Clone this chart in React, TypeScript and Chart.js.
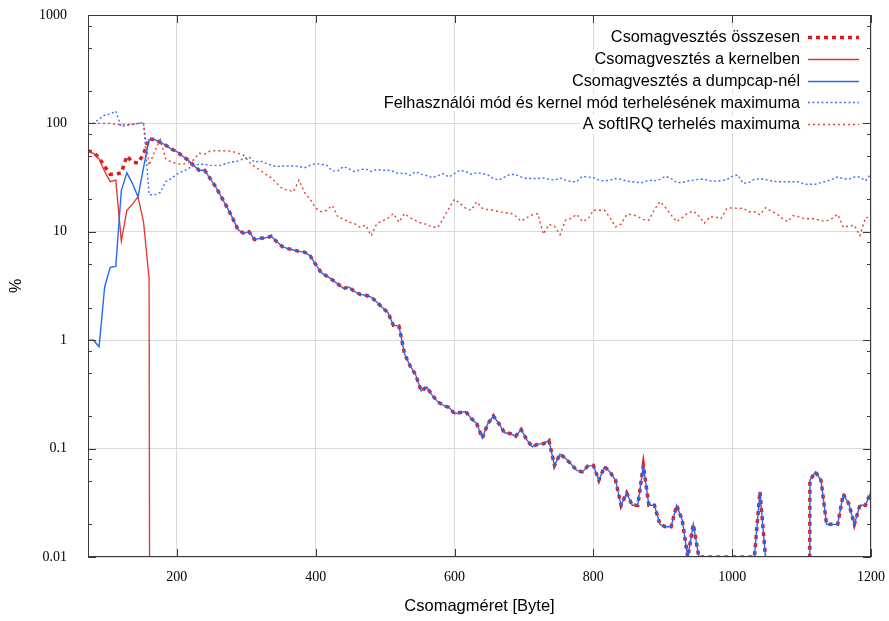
import React, { useEffect, useRef } from "react";
import { Chart, registerables } from "chart.js";

Chart.register(...registerables);

// ---------- data ----------
const packetSizes = [
  72, 80, 88, 96, 104, 112, 120, 128, 136, 144,
  152, 160, 168, 176, 184, 192, 200, 208, 216, 224,
  232, 240, 248, 256, 264, 272, 280, 288, 296, 304,
  312, 320, 328, 336, 344, 352, 360, 368, 376, 384,
  392, 400, 408, 416, 424, 432, 440, 448, 456, 464,
  472, 480, 488, 496, 504, 512, 520, 528, 536, 544,
  552, 560, 568, 576, 584, 592, 600, 608, 616, 624,
  632, 640, 648, 656, 664, 672, 680, 688, 696, 704,
  712, 720, 728, 736, 744, 752, 760, 768, 776, 784,
  792, 800, 808, 816, 824, 832, 840, 848, 856, 864,
  872, 880, 888, 896, 904, 912, 920, 928, 936, 944,
  952, 960, 968, 976, 984, 992, 1000, 1008, 1016, 1024,
  1032, 1040, 1048, 1056, 1064, 1072, 1080, 1088, 1096, 1104,
  1112, 1120, 1128, 1136, 1144, 1152, 1160, 1168, 1176, 1184,
  1192, 1200,
];

const lossTotal = [
  56, 54, 48, 40, 34, 34, 35, 50, 44, 43,
  52, 72, 71, 67, 63, 58, 55, 50, 46, 41,
  37, 37, 31, 26, 21, 17, 13.5, 10.5, 9.7, 10,
  8.5, 8.7, 8.8, 9.1, 8.1, 7.3, 7.0, 6.8, 6.6, 6.5,
  6.0, 5.0, 4.2, 3.9, 3.6, 3.3, 3.0, 3.1, 2.8, 2.65,
  2.6, 2.5, 2.25, 2.0, 1.8, 1.37, 1.35, 0.75, 0.58, 0.48,
  0.34, 0.37, 0.31, 0.27, 0.25, 0.24, 0.21, 0.215, 0.22, 0.19,
  0.17, 0.125, 0.17, 0.2, 0.17, 0.14, 0.138, 0.13, 0.15, 0.121,
  0.104, 0.11, 0.111, 0.119, 0.07, 0.089, 0.081, 0.072, 0.063, 0.061,
  0.069, 0.07, 0.051, 0.068, 0.061, 0.051, 0.03, 0.039, 0.03, 0.03,
  0.07, 0.03, 0.03, 0.02, 0.019, 0.019, 0.03, 0.022, 0.01, 0.02,
  0.01, 0.01, 0.01, 0.01, 0.01, 0.01, 0.01, 0.01, 0.01, 0.01,
  0.01, 0.04, 0.01, 0, 0, 0, 0, 0, 0, 0,
  0.051, 0.061, 0.051, 0.02, 0.02, 0.02, 0.038, 0.031, 0.02, 0.03,
  0.03, 0.04,
];

// kernel loss: read up to the point where it falls to zero (stays zero afterwards)
const lossKernel = [55, 53, 47, 36, 29, 30, 8.2, 15.8, 18, 21, 12.3, 3.7, 0];

const lossDumpcap = [
  1.0, 1.0, 0.87, 3.1, 4.7, 4.8, 24, 35, 28, 21,
  39, 71, 71, 67, 63, 58, 55, 50, 46, 41,
  37, 37, 31, 26, 21, 17, 13.5, 10.5, 9.7, 10,
  8.5, 8.7, 8.8, 9.1, 8.1, 7.3, 7.0, 6.8, 6.6, 6.5,
  6.0, 5.0, 4.2, 3.9, 3.6, 3.3, 3.0, 3.1, 2.8, 2.65,
  2.6, 2.5, 2.25, 2.0, 1.8, 1.37, 1.35, 0.75, 0.58, 0.48,
  0.34, 0.37, 0.31, 0.27, 0.25, 0.24, 0.21, 0.215, 0.22, 0.19,
  0.17, 0.125, 0.17, 0.2, 0.17, 0.14, 0.138, 0.13, 0.15, 0.121,
  0.104, 0.11, 0.111, 0.119, 0.07, 0.089, 0.081, 0.072, 0.063, 0.061,
  0.069, 0.07, 0.051, 0.068, 0.061, 0.051, 0.03, 0.039, 0.03, 0.03,
  0.07, 0.03, 0.03, 0.02, 0.019, 0.019, 0.03, 0.022, 0.01, 0.02,
  0.01, 0.01, 0.01, 0.01, 0.01, 0.01, 0.01, 0.01, 0.01, 0.01,
  0.01, 0.04, 0.01, 0, 0, 0, 0, 0, 0, 0,
  0.051, 0.061, 0.051, 0.02, 0.02, 0.02, 0.038, 0.031, 0.02, 0.03,
  0.03, 0.04,
];

const cpuUserKernelMax = [
  100, 100, 110, 119, 122, 130, 93, 96, 98, 100,
  102, 22, 22, 23, 29, 31, 34, 36, 38, 41,
  42, 42, 41, 41, 41, 43, 44, 45, 47, 49,
  44, 45, 43, 41, 40, 40.5, 40.5, 40.5, 40, 39,
  41, 42.5, 42, 41, 36.5, 36.5, 40, 38, 36, 37.5,
  38, 36, 37.5, 37, 37, 36, 34.4, 35, 33.2, 35.8,
  34, 33, 31.5, 33, 34.4, 32, 34.4, 37, 36, 34,
  35, 34.5, 33.5, 31, 30, 32, 33.8, 33.8, 32, 31,
  31, 31, 31.4, 30.5, 30, 31.4, 30, 29, 29, 32.5,
  32, 31.6, 30, 29.4, 30, 31, 30.5, 29.3, 29, 28.5,
  28.5, 30, 29.5, 30.5, 32.5, 31, 28.5, 28.5, 29.4, 30,
  30.5, 30.5, 29.5, 29.3, 29.6, 30.2, 32.5, 33.5, 28, 28.5,
  30.5, 30.8, 30.3, 29.5, 29, 29, 29, 29, 28.8, 27.5,
  27.5, 27.5, 28.5, 29.2, 30.5, 32, 31, 30.5, 32, 32,
  29.5, 34,
];

const softirqMax = [
  100, 100, 100, 100, 100, 98, 97, 98, 98, 100,
  100, 41, 55, 71, 47, 44, 42.5, 42, 43, 46,
  53, 52, 55.6, 56, 56, 56, 55, 53, 51, 44,
  40, 37, 34, 31.5, 28, 25, 24.2, 23.5, 30, 23,
  20, 16.5, 15.3, 15.8, 17.5, 13.7, 13.1, 12.3, 11.9, 11,
  11.5, 9.2, 11.9, 12.6, 13.3, 14.7, 12.3, 14.7, 13.5, 12.7,
  12, 11.7, 11, 11, 13.3, 16.5, 20, 18.2, 16.5, 15.8,
  18.9, 16.5, 16, 15.8, 15.3, 15, 15, 14, 12.5, 13.5,
  14.3, 14.7, 9.5, 11.7, 11.3, 9.4, 12.8, 13.3, 14.5, 12.5,
  13, 15.8, 15.8, 15.8, 13.5, 11.1, 11.8, 14.4, 14.5, 13.8,
  13, 12.8, 16, 19, 16.7, 14.3, 12.4, 13.5, 14.9, 15.5,
  14, 12, 13.8, 13.7, 13.2, 16.3, 16.7, 16.4, 16.5, 15.3,
  15.3, 14.3, 16.7, 15.5, 14.7, 13.3, 12.4, 14.1, 13.8, 13.2,
  13.2, 13.2, 12.6, 12.6, 13.3, 14.5, 11, 11.3, 11.5, 9.2,
  13.5, 13.7,
];

const seriesLabels = [
  "Csomagvesztés összesen",
  "Csomagvesztés a kernelben",
  "Csomagvesztés a dumpcap-nél",
  "Felhasználói mód és kernel mód terhelésének maximuma",
  "A softIRQ terhelés maximuma",
];

const xTickValues = [200, 400, 600, 800, 1000, 1200];
const yTickValues = [0.01, 0.1, 1, 10, 100, 1000];
const yTickLabels = ["0.01", "0.1", "1", "10", "100", "1000"];
const yMinorFactors = [2, 5, 8];
const xTitle = "Csomagméret [Byte]";
const yTitle = "%";

// ---------- style ----------
const SERIF = "'Liberation Serif', 'Times New Roman', serif";
const SANS = "'Liberation Sans', Arial, Helvetica, sans-serif";
const RED = "rgb(222, 28, 28)";
const RED_THIN = "rgb(226, 52, 40)";
const BLUE = "rgb(40, 104, 242)";
const BLUE_DOT = "rgb(60, 112, 245)";
const RED_DOT = "rgb(228, 64, 52)";
const GRID = "#dadada";
const FRAME = "#3a3a3a";

// zero loss has no place on a log axis: push it far below the visible range
const LOG_FLOOR = 1e-30;
const toPoints = (vals: number[]) =>
  vals.map((v, i) => ({ x: packetSizes[i], y: v === 0 ? LOG_FLOOR : v }));

const zeroScalePadding = (s: any) => {
  s.paddingTop = 0;
  s.paddingBottom = 0;
  s.paddingLeft = 0;
  s.paddingRight = 0;
};

const framePlugin = {
  id: "gnuFrame",
  afterDatasetsDraw(chart: any) {
    const { ctx, chartArea: a, scales } = chart;
    const ys = scales.y;
    const xs = scales.x;
    ctx.save();
    ctx.strokeStyle = FRAME;
    ctx.lineWidth = 1;
    ctx.beginPath();
    const major = 8;
    const minor = 4;
    yTickValues.forEach((v) => {
      const py = Math.round(ys.getPixelForValue(v)) + 0.5;
      ctx.moveTo(a.left, py);
      ctx.lineTo(a.left + major, py);
      ctx.moveTo(a.right, py);
      ctx.lineTo(a.right - major, py);
      yMinorFactors.forEach((f) => {
        const mv = v * f;
        if (mv >= 1000) return;
        const my = Math.round(ys.getPixelForValue(mv)) + 0.5;
        ctx.moveTo(a.left, my);
        ctx.lineTo(a.left + minor, my);
        ctx.moveTo(a.right, my);
        ctx.lineTo(a.right - minor, my);
      });
    });
    xTickValues.forEach((v) => {
      const px = Math.round(xs.getPixelForValue(v)) + 0.5;
      ctx.moveTo(px, a.bottom);
      ctx.lineTo(px, a.bottom - major);
      ctx.moveTo(px, a.top);
      ctx.lineTo(px, a.top + major);
    });
    ctx.stroke();
    ctx.strokeRect(
      Math.round(a.left) + 0.5,
      Math.round(a.top) + 0.5,
      Math.round(a.right - a.left) - 1,
      Math.round(a.bottom - a.top) - 1
    );
    ctx.restore();
  },
};

const keyPlugin = {
  id: "gnuKey",
  afterDatasetsDraw(chart: any) {
    const { ctx, chartArea: a } = chart;
    const datasets = chart.data.datasets;
    const textRight = a.right - 71;
    const sampleStart = a.right - 63;
    const sampleEnd = a.right - 12;
    const rowH = 21.75;
    const firstRow = a.top + 22;
    ctx.save();
    ctx.font = `16.3px ${SANS}`;
    ctx.textAlign = "right";
    ctx.textBaseline = "middle";
    datasets.forEach((ds: any, i: number) => {
      const y = firstRow + i * rowH;
      const w = ctx.measureText(ds.label).width;
      ctx.fillStyle = "#ffffff";
      ctx.fillRect(textRight - w - 3, y - 9, sampleEnd - (textRight - w - 3) + 2, 18);
      ctx.fillStyle = "#000000";
      ctx.fillText(ds.label, textRight, y + 1);
      ctx.beginPath();
      ctx.strokeStyle = ds.borderColor;
      ctx.lineWidth = ds.borderWidth;
      ctx.setLineDash(ds.borderDash || []);
      ctx.lineCap = "butt";
      const yy = Math.round(y) + 0.5;
      ctx.moveTo(sampleStart, yy);
      ctx.lineTo(sampleEnd, yy);
      ctx.stroke();
      ctx.setLineDash([]);
    });
    ctx.restore();
  },
};

export default function App() {
  const canvasRef = useRef<HTMLCanvasElement | null>(null);

  useEffect(() => {
    document.body.style.margin = "0";
    const canvas = canvasRef.current;
    if (!canvas) return;
    const chart = new Chart(canvas, {
      type: "line",
      data: {
        datasets: [
          {
            label: seriesLabels[0],
            data: toPoints(lossTotal),
            borderColor: RED,
            backgroundColor: RED,
            borderWidth: 3.5,
            borderDash: [4, 4],
            borderCapStyle: "butt",
            pointRadius: 0,
            tension: 0,
            order: 5,
          },
          {
            label: seriesLabels[1],
            data: toPoints(lossKernel),
            borderColor: RED_THIN,
            backgroundColor: RED_THIN,
            borderWidth: 1.3,
            pointRadius: 0,
            tension: 0,
            order: 4,
          },
          {
            label: seriesLabels[2],
            data: toPoints(lossDumpcap),
            borderColor: BLUE,
            backgroundColor: BLUE,
            borderWidth: 1.4,
            pointRadius: 0,
            tension: 0,
            order: 3,
          },
          {
            label: seriesLabels[3],
            data: toPoints(cpuUserKernelMax),
            borderColor: BLUE_DOT,
            backgroundColor: BLUE_DOT,
            borderWidth: 1.4,
            borderDash: [2, 2.5],
            pointRadius: 0,
            tension: 0,
            order: 2,
          },
          {
            label: seriesLabels[4],
            data: toPoints(softirqMax),
            borderColor: RED_DOT,
            backgroundColor: RED_DOT,
            borderWidth: 1.4,
            borderDash: [2, 3],
            pointRadius: 0,
            tension: 0,
            order: 1,
          },
        ],
      },
      options: {
        animation: false,
        responsive: false,
        events: [],
        layout: { padding: { left: 0, right: 18, top: 15, bottom: 0 } },
        plugins: {
          legend: { display: false },
          tooltip: { enabled: false },
        },
        scales: {
          x: {
            type: "linear",
            min: 72,
            max: 1200,
            afterBuildTicks: (s: any) => {
              s.ticks = xTickValues.map((v) => ({ value: v }));
            },
            afterFit: (s: any) => {
              s.height = 64;
              zeroScalePadding(s);
            },
            grid: { color: GRID, lineWidth: 1, drawTicks: false },
            border: { display: false },
            ticks: {
              autoSkip: false,
              maxRotation: 0,
              padding: 12,
              color: "#000",
              font: { family: SERIF, size: 14 },
              callback: (v: any) => String(v),
            },
            title: {
              display: true,
              text: xTitle,
              color: "#000",
              font: { family: SANS, size: 16.5 },
              padding: { top: 0, bottom: 5 },
            },
          },
          y: {
            type: "logarithmic",
            min: 0.01,
            max: 1000,
            afterBuildTicks: (s: any) => {
              s.ticks = yTickValues.map((v) => ({ value: v }));
            },
            afterFit: (s: any) => {
              s.width = 88;
              zeroScalePadding(s);
            },
            grid: { color: GRID, lineWidth: 1, drawTicks: false },
            border: { display: false },
            ticks: {
              autoSkip: false,
              padding: 21,
              color: "#000",
              font: { family: SERIF, size: 14 },
              callback: (_v: any, i: number) => yTickLabels[i],
            },
            title: {
              display: true,
              text: yTitle,
              color: "#000",
              font: { family: SANS, size: 16 },
              padding: { top: 7, bottom: 0 },
            },
          },
        },
      },
      plugins: [framePlugin, keyPlugin],
    } as any);
    return () => chart.destroy();
  }, []);

  return (
    <div style={{ width: 889, height: 621 }}>
      <canvas ref={canvasRef} width={889} height={621} style={{ display: "block" }} />
    </div>
  );
}
